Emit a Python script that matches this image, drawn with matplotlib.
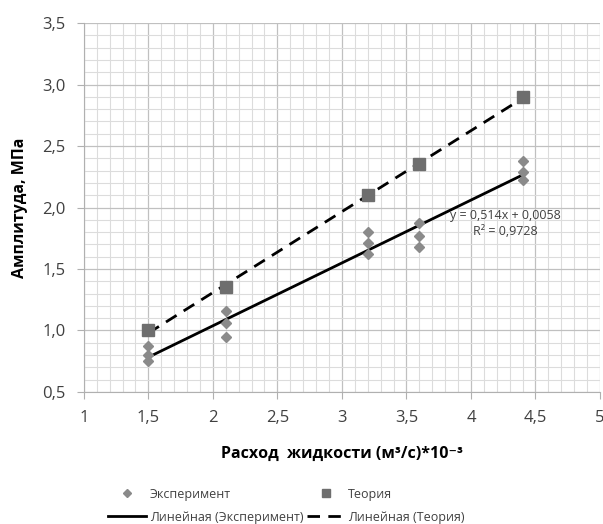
import numpy as np
import matplotlib.pyplot as plt
from matplotlib.ticker import MultipleLocator, FuncFormatter

plt.rcParams["font.family"] = ["Open Sans", "DejaVu Sans"]

# data
exp_x = [1.5, 1.5, 1.5, 2.1, 2.1, 2.1, 3.2, 3.2, 3.2, 3.6, 3.6, 3.6, 4.4, 4.4, 4.4]
exp_y = [0.87, 0.80, 0.75, 1.16, 1.06, 0.95, 1.80, 1.71, 1.62, 1.87, 1.77, 1.68, 2.38, 2.29, 2.22]
theory_x = [1.5, 2.1, 3.2, 3.6, 4.4]
theory_y = [1.00, 1.35, 2.10, 2.35, 2.90]

fit_label = "y = 0,514x + 0,0058\nR² = 0,9728"

fig = plt.figure(figsize=(6.03, 5.24), dpi=100)
ax = fig.add_axes([0.139, 0.252, 0.856, 0.704])

grey = "#404040"

# trend lines
xs = np.array([min(exp_x), max(exp_x)])
k, b = np.polyfit(exp_x, exp_y, 1)
line_exp, = ax.plot(xs, k * xs + b, color="black", lw=2, zorder=3)
k2, b2 = np.polyfit(theory_x, theory_y, 1)
xs2 = np.array([min(theory_x), max(theory_x)])
line_th, = ax.plot(xs2, k2 * xs2 + b2, color="black", lw=2, ls=(0, (4.5, 3)), zorder=3)

sc_exp, = ax.plot(exp_x, exp_y, ls="none", marker="D", ms=5, color="#8a8a8a", zorder=4)
sc_th, = ax.plot(theory_x, theory_y, ls="none", marker="s", ms=8, color="#6e6e6e", zorder=4)

ax.text(4.27, 1.87, fit_label, ha="center", va="center", fontsize=9, color=grey,
        linespacing=1.25, zorder=5)

ax.set_xlim(1, 5)
ax.set_ylim(0.5, 3.5)
ax.xaxis.set_major_locator(MultipleLocator(0.5))
ax.yaxis.set_major_locator(MultipleLocator(0.5))
ax.xaxis.set_minor_locator(MultipleLocator(0.1))
ax.yaxis.set_minor_locator(MultipleLocator(0.1))
ax.xaxis.set_major_formatter(FuncFormatter(lambda v, p: f"{v:g}".replace(".", ",")))
ax.yaxis.set_major_formatter(FuncFormatter(lambda v, p: f"{v:.1f}".replace(".", ",")))
ax.grid(which="major", color="#c0c0c0", lw=0.9)
ax.grid(which="minor", color="#dcdcdc", lw=0.8)
ax.set_axisbelow(True)

for s in ["top", "right"]:
    ax.spines[s].set_visible(False)
for s in ["left", "bottom"]:
    ax.spines[s].set_color("#b0b0b0")
ax.tick_params(which="major", length=5, color="#b0b0b0", labelsize=12, labelcolor=grey, pad=8)
ax.tick_params(which="minor", length=0)

ax.set_ylabel("Амплитуда, МПа", fontsize=11.5, fontweight="bold", color="black", labelpad=10)
ax.set_xlabel("Расход  жидкости (м³/с)*10⁻³", fontsize=11.5, fontweight="bold",
              color="black", labelpad=14)

leg = fig.legend([sc_exp, line_exp, sc_th, line_th],
                 ["Эксперимент", "Линейная (Эксперимент)", "Теория", "Линейная (Теория)"],
                 ncol=2, loc="center", bbox_to_anchor=(0.475, 0.035), frameon=False,
                 fontsize=9, labelcolor=grey, columnspacing=0.3, handlelength=3.0,
                 handletextpad=0.3, labelspacing=0.8, markerscale=0.8)

fig.savefig("out.png", dpi=100)
